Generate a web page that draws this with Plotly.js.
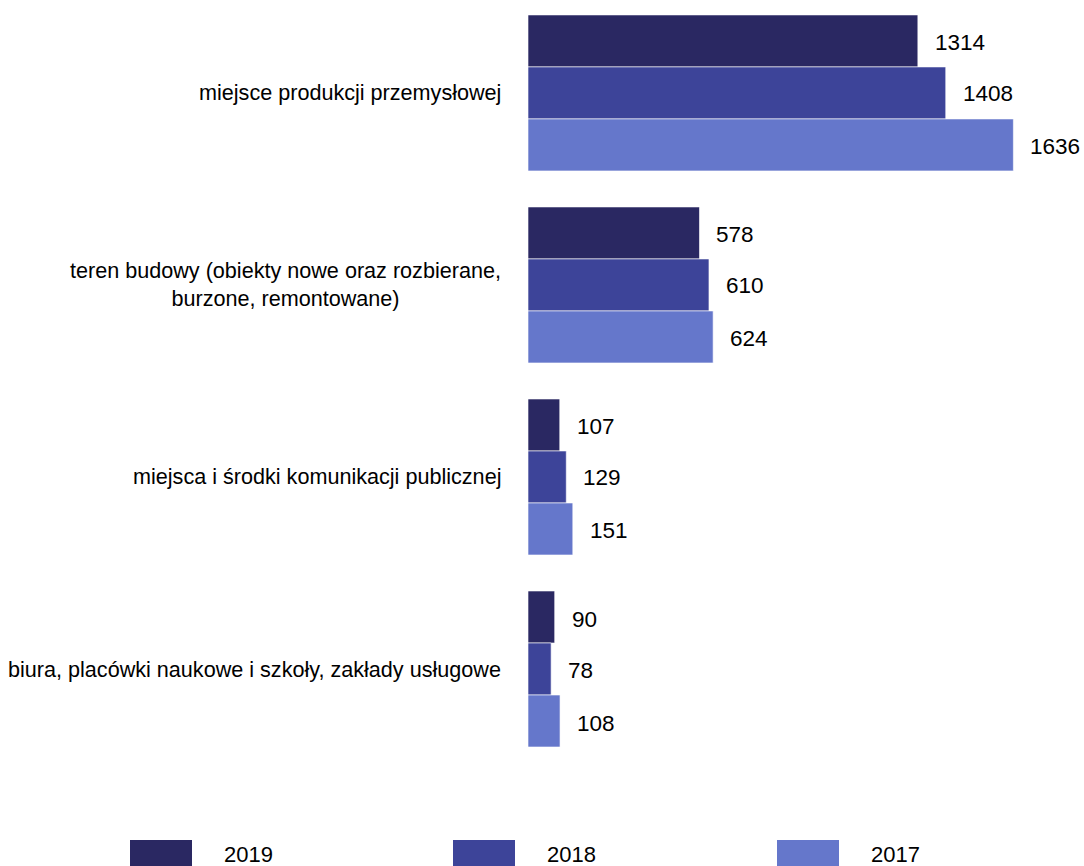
<!DOCTYPE html>
<html>
<head>
<meta charset="utf-8">
<script src="https://cdn.plot.ly/plotly-3.0.1.min.js"></script>
<style>html,body{margin:0;padding:0;background:#fff;}#chart{width:1084px;height:866px;}</style>
</head>
<body>
<div id="chart"></div>
<script>
const categories = [
  "miejsce produkcji przemysłowej",
  "teren budowy (obiekty nowe oraz rozbierane,<br>burzone, remontowane)",
  "miejsca i środki komunikacji publicznej",
  "biura, placówki naukowe i szkoły, zakłady usługowe"
];
const seriesNames = ["2019", "2018", "2017"];
const values2019 = [1314, 578, 107, 90];
const values2018 = [1408, 610, 129, 78];
const values2017 = [1636, 624, 151, 108];
const colors = ["#2a2862", "#3d4499", "#6577cb"];

const seriesValues = [values2019, values2018, values2017];
const catIdx = categories.map((c, i) => i);

const traces = seriesValues.map((vals, s) => ({
  type: "bar",
  orientation: "h",
  name: seriesNames[s],
  x: vals,
  y: catIdx,
  marker: { color: colors[s], line: { color: "rgba(255,255,255,0.6)", width: 1 } },
  hoverinfo: "x+name",
  showlegend: false
}));

const FONT = "Liberation Sans, Arial, Helvetica, sans-serif";
const annotations = [];
const yShifts = [50, -1, -54];
seriesValues.forEach((vals, s) => {
  vals.forEach((v, i) => {
    annotations.push({
      x: v, y: i, xref: "x", yref: "y",
      text: String(v), showarrow: false,
      xanchor: "left", yanchor: "middle",
      xshift: 15, yshift: yShifts[s],
      font: { family: FONT, size: 22.5, color: "#000" }
    });
  });
});
categories.forEach((c, i) => {
  annotations.push({
    x: 0, y: i, xref: "paper", yref: "y",
    text: c, showarrow: false,
    xanchor: "right", yanchor: "middle", align: "center",
    xshift: -25,
    font: { family: FONT, size: 21.6, color: "#000" }
  });
});

// legend drawn manually (large swatches)
const shapes = [];
const legendX = [130, 453, 777];
const L = 528, W = 556, H = 770;
seriesNames.forEach((n, s) => {
  shapes.push({
    type: "rect", xref: "paper", yref: "paper",
    x0: (legendX[s] - L) / W, x1: (legendX[s] + 62 - L) / W,
    y0: (H - 866 - 4) / H, y1: (H - 840) / H,
    fillcolor: colors[s], line: { width: 0 }
  });
  annotations.push({
    x: (legendX[s] + 92 - L) / W, y: (H - 854) / H,
    xref: "paper", yref: "paper", text: n, showarrow: false,
    xanchor: "left", yanchor: "middle",
    font: { family: FONT, size: 22, color: "#000" }
  });
});

const layout = {
  width: 1084, height: 866,
  margin: { l: 528, r: 0, t: 0, b: 96 },
  paper_bgcolor: "#fff", plot_bgcolor: "#fff",
  barmode: "group", bargap: 0.1875, bargroupgap: 0,
  showlegend: false,
  xaxis: { range: [0, 1874], visible: false, fixedrange: true },
  yaxis: { range: [3.526, -0.484], showticklabels: false, showgrid: false, zeroline: false, showline: false, ticks: "", fixedrange: true },
  annotations: annotations,
  shapes: shapes,
  font: { family: FONT }
};

Plotly.newPlot("chart", traces, layout, { displayModeBar: false, staticPlot: true });
</script>
</body>
</html>
